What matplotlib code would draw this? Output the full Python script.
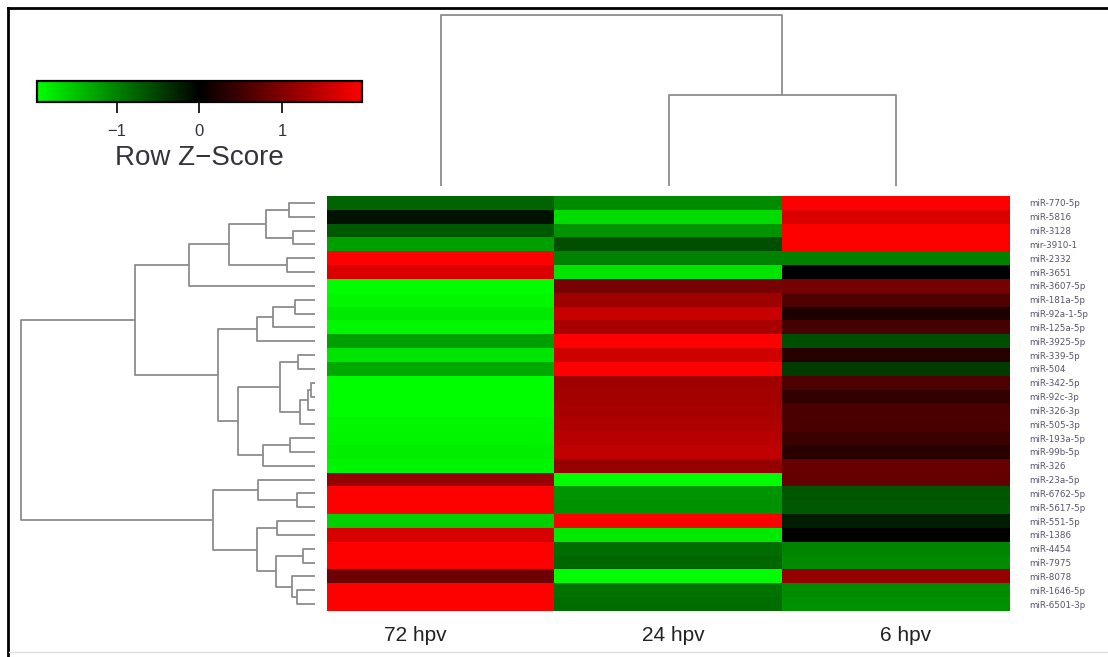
import numpy as np
import matplotlib
matplotlib.use("Agg")
import matplotlib.pyplot as plt
from matplotlib.colors import LinearSegmentedColormap, Normalize
from matplotlib.lines import Line2D

# miRNAs in dendrogram order (top to bottom)
mirnas = ["miR-770-5p", "miR-5816", "miR-3128", "mir-3910-1", "miR-2332",
          "miR-3651", "miR-3607-5p", "miR-181a-5p", "miR-92a-1-5p", "miR-125a-5p",
          "miR-3925-5p", "miR-339-5p", "miR-504", "miR-342-5p", "miR-92c-3p",
          "miR-326-3p", "miR-505-3p", "miR-193a-5p", "miR-99b-5p", "miR-326",
          "miR-23a-5p", "miR-6762-5p", "miR-5617-5p", "miR-551-5p", "miR-1386",
          "miR-4454", "miR-7975", "miR-8078", "miR-1646-5p", "miR-6501-3p"]
conditions = ["72 hpv", "24 hpv", "6 hpv"]

# row z-scores per time point
z_72 = [-0.77, -0.15, -0.69, -1.22, 1.95, 1.68, -1.95, -1.90, -1.80, -1.90,
        -1.22, -1.76, -1.30, -1.95, -1.95, -1.95, -1.90, -1.88, -1.84, -1.88,
        1.15, 1.95, 1.95, -1.60, 1.65, 1.95, 1.95, 0.84, 1.95, 1.95]
z_24 = [-1.07, -1.68, -1.15, -0.61, -1.00, -1.76, 0.92, 1.22, 1.53, 1.30,
        1.95, 1.60, 1.95, 1.22, 1.26, 1.30, 1.34, 1.42, 1.49, 1.15,
        -1.95, -1.15, -1.11, 1.95, -1.80, -0.84, -0.80, -1.95, -0.88, -0.84]
z_6 = [1.95, 1.68, 1.95, 1.95, -1.00, 0.00, 0.92, 0.61, 0.23, 0.54,
       -0.61, 0.30, -0.46, 0.61, 0.38, 0.57, 0.57, 0.46, 0.31, 0.80,
       0.77, -0.65, -0.69, -0.23, 0.00, -1.03, -1.07, 1.15, -1.07, -1.11]

# merges as (child, child, height); ids >= n_leaves point to earlier merges
row_merges = [(0, 1, 1.30), (2, 3, 1.10), (30, 31, 2.45), (4, 5, 1.40),
              (32, 33, 4.30), (34, 6, 6.30), (7, 8, 1.00), (36, 9, 2.10),
              (37, 10, 2.90), (11, 12, 0.85), (13, 14, 0.20), (40, 15, 0.35),
              (41, 16, 0.75), (39, 42, 1.75), (17, 18, 1.25), (44, 19, 2.60),
              (43, 45, 3.85), (38, 46, 4.85), (35, 47, 9.00), (21, 22, 0.90),
              (20, 49, 2.85), (23, 24, 1.90), (25, 26, 0.60), (28, 29, 0.90),
              (27, 53, 1.15), (52, 54, 1.95), (51, 55, 2.90), (50, 56, 5.10),
              (48, 57, 14.70)]
col_merges = [(1, 2, 4.55), (0, 3, 8.55)]

W, H = 1108, 657
fig = plt.figure(figsize=(W / 100, H / 100), dpi=100)


def box(x0, y0, x1, y1):
    # pixel box (top-left origin) -> figure fraction rect
    return [x0 / W, 1 - y1 / H, (x1 - x0) / W, (y1 - y0) / H]


cmap = LinearSegmentedColormap.from_list("gkr", ["#00ff00", "#000000", "#ff0000"])
norm = Normalize(vmin=-1.97, vmax=1.97)

# heatmap
data = np.column_stack([z_72, z_24, z_6])
ax = fig.add_axes(box(327, 196, 1010, 611))
im = ax.imshow(data, cmap=cmap, norm=norm, aspect="auto", interpolation="nearest")
for s in ax.spines.values():
    s.set_visible(False)
ax.set_xticks([])
ax.yaxis.tick_right()
ax.set_yticks(range(len(mirnas)))
ax.set_yticklabels(mirnas, fontsize=6.3, color="#55556a")
ax.tick_params(axis="y", length=0, pad=14)
label_shift = [-0.11, 0.02, 0.04]
for i, c in enumerate(conditions):
    ax.text(i + label_shift[i], -0.06, c, transform=ax.get_xaxis_transform(),
            ha="center", va="center", fontsize=15, family="Liberation Sans",
            color="#222222")

tree_kw = dict(color="#8c8c8c", lw=1.3, clip_on=False, solid_capstyle="butt")


def draw_tree(axd, merges, n, side):
    pos = list(range(n))
    hgt = [0.0] * n
    for a, b, h in merges:
        if side == "left":
            axd.plot([hgt[a], h, h, hgt[b]], [pos[a], pos[a], pos[b], pos[b]], **tree_kw)
        else:
            axd.plot([pos[a], pos[a], pos[b], pos[b]], [hgt[a], h, h, hgt[b]], **tree_kw)
        pos.append((pos[a] + pos[b]) / 2)
        hgt.append(h)
    return hgt[-1]


# row dendrogram
axr = fig.add_axes(box(21, 196, 315, 611))
top = draw_tree(axr, row_merges, len(mirnas), "left")
axr.set_xlim(top, 0)
axr.set_ylim(len(mirnas) - 0.5, -0.5)
axr.axis("off")

# column dendrogram
axc = fig.add_axes(box(327, 15, 1010, 186))
top = draw_tree(axc, col_merges, len(conditions), "top")
axc.set_xlim(-0.5, len(conditions) - 0.5)
axc.set_ylim(0, top)
axc.axis("off")

# colour key
cax = fig.add_axes(box(37, 81, 362, 102))
cb = fig.colorbar(im, cax=cax, orientation="horizontal", ticks=[-1, 0, 1])
cb.outline.set_linewidth(1.6)
cax.tick_params(axis="x", length=8, width=1.2, pad=8, labelsize=12,
                labelcolor="#333340")
cax.set_xticklabels(["\u22121", "0", "1"], family="Liberation Sans")
cax.set_xlabel("Row Z\u2212Score", fontsize=20, family="Liberation Sans",
               color="#333340", labelpad=4)

# frame around the panel
fig.add_artist(Line2D([8 / W, 8 / W], [0, 1 - 8 / H], color="black", lw=2))
fig.add_artist(Line2D([8 / W, 1], [1 - 8 / H, 1 - 8 / H], color="black", lw=2))
fig.add_artist(Line2D([9 / W, 1], [1 - 652 / H, 1 - 652 / H], color="#dddddd", lw=1))

fig.savefig("out.png", dpi=100)
